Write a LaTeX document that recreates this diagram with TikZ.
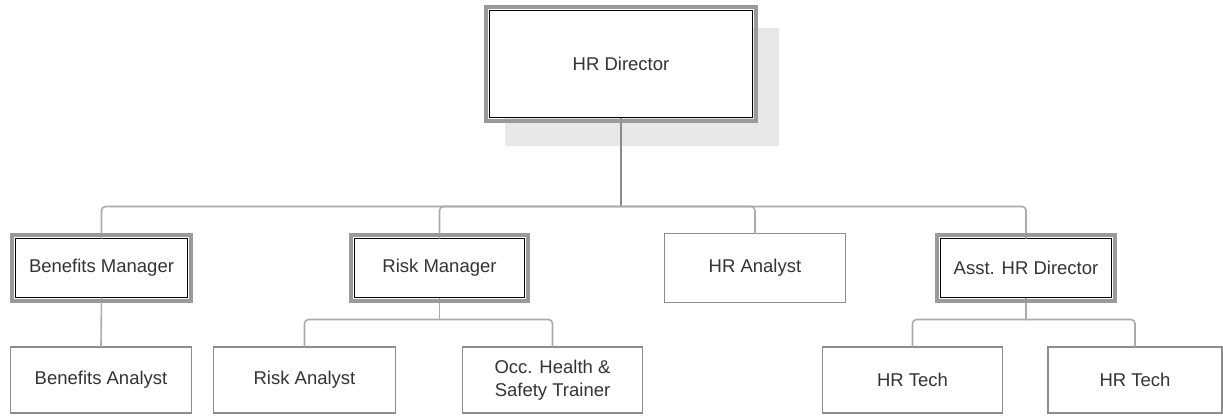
\documentclass[tikz,border=0pt]{standalone}
\usepackage{fontspec}
\setmainfont{Liberation Sans}
\usetikzlibrary{backgrounds}
\definecolor{ink}{HTML}{333333}
\definecolor{linegray}{HTML}{ABABAB}
\definecolor{trunkgray}{HTML}{8A8A8A}
\definecolor{ringgray}{HTML}{9A9A9A}
\definecolor{boxline}{HTML}{8C8C8C}
\definecolor{shadowgray}{HTML}{E8E8E8}
\begin{document}
\begin{tikzpicture}[x=1pt,y=-1pt,
  every node/.style={font=\fontsize{18.5}{23}\selectfont, text=ink,
    inner sep=0pt, outer sep=0pt, align=center},
  mgr/.style={draw=black, line width=1.4pt, fill=white},
  staff/.style={draw=boxline, line width=1.3pt, fill=white},
  ring/.style={draw=ringgray, line width=4pt},
  conn/.style={draw=linegray, line width=1.6pt, rounded corners=4pt},
  trunk/.style={draw=trunkgray, line width=2.2pt},
  shade/.style={fill=shadowgray}]
\useasboundingbox (0,0) rectangle (1223,415);

% top position
\node[mgr, minimum width=263pt, minimum height=107pt] (hrd) at (621,64) {HR Director};

% managers and direct reports
\node[mgr, minimum width=172pt, minimum height=59pt] (bm) at (101.5,268) {Benefits Manager};
\node[mgr, minimum width=170pt, minimum height=59pt] (rm) at (439.5,268) {Risk Manager};
\node[staff, minimum width=181pt, minimum height=69pt] (hra) at (755,268) {HR Analyst};
\node[mgr, minimum width=171pt, minimum height=59pt] (ahr) at (1026,268) {Asst. HR Director};

% staff row
\node[staff, minimum width=181pt, minimum height=66pt] (ba) at (101,380) {Benefits Analyst};
\node[staff, minimum width=182pt, minimum height=66pt] (ra) at (304.5,380) {Risk Analyst};
\node[staff, minimum width=180pt, minimum height=66pt] (occ) at (552.5,380) {Occ. Health \&\\Safety Trainer};
\node[staff, minimum width=180pt, minimum height=66pt] (t1) at (912.5,380) {HR Tech};
\node[staff, minimum width=174pt, minimum height=66pt] (t2) at (1135,380) {HR Tech};

% shadow behind the director box
\begin{pgfonlayer}{background}
  \fill[shade] ([shift={(15.5pt,-17.5pt)}]hrd.north west)
    rectangle ([shift={(26.5pt,-28.5pt)}]hrd.south east);
\end{pgfonlayer}

% connectors
\draw[trunk] (hrd.south) -- ++(0,89) coordinate (hub);
\foreach \n in {bm,rm,hra,ahr}
  \draw[conn] (hub) -| (\n.north);
\draw[conn] (bm.south) -- (ba.north);
\draw[conn] (rm.south) -- ++(0,22) coordinate (rmhub);
\draw[conn] (rmhub) -| (ra.north);
\draw[conn] (rmhub) -| (occ.north);
\draw[conn] (ahr.south) -- ++(0,22) coordinate (ahrhub);
\draw[conn] (ahrhub) -| (t1.north);
\draw[conn] (ahrhub) -| (t2.north);

% outer grey frame of the manager boxes
\foreach \n in {hrd,bm,rm,ahr}
  \draw[ring] ([shift={(-3.5pt,3.5pt)}]\n.north west)
    rectangle ([shift={(3.5pt,-3.5pt)}]\n.south east);
\end{tikzpicture}
\end{document}
